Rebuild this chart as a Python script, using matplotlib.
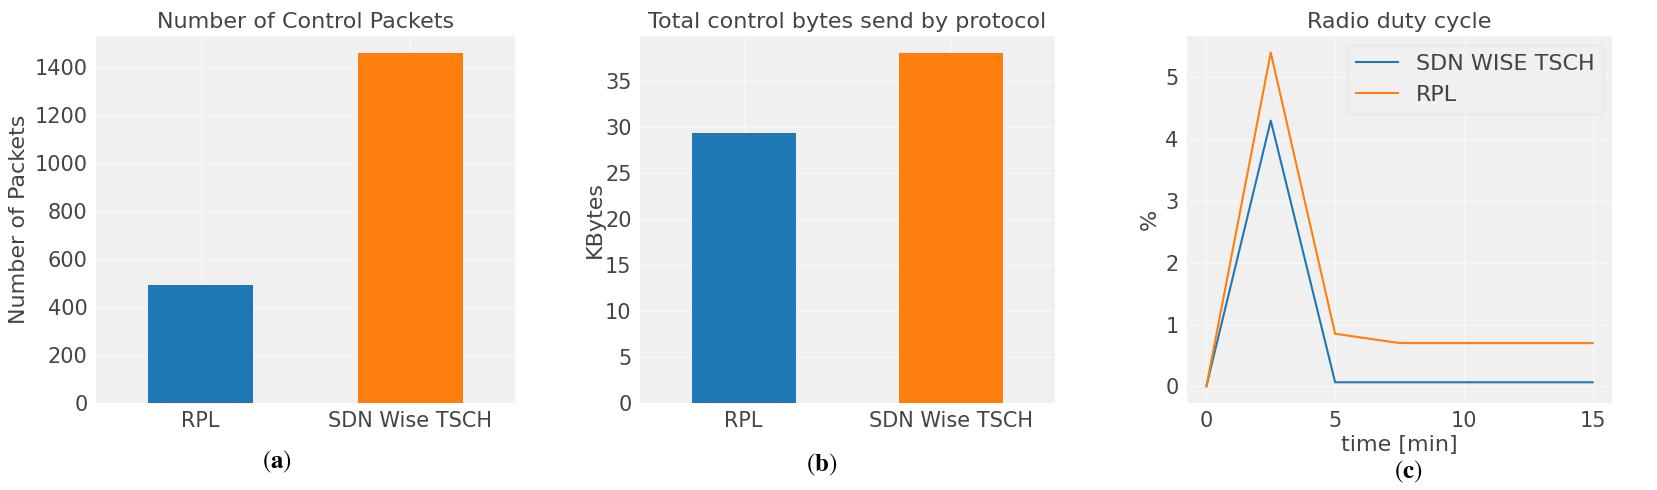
import matplotlib
matplotlib.use("Agg")
import matplotlib.pyplot as plt
import numpy as np

# data
protocols = ["RPL", "SDN Wise TSCH"]
control_packets = [492, 1455]
control_kbytes = [29.3, 38.0]

time_min = [0, 2.5, 5, 7.5, 10, 12.5, 15]
duty_sdn = [0.0, 4.30, 0.065, 0.065, 0.065, 0.065, 0.065]
duty_rpl = [0.0, 5.40, 0.85, 0.70, 0.70, 0.70, 0.70]

bar_colors = ["#1f77b4", "#ff7f0e"]
text_color = "#444444"

plt.rcParams.update({
    "font.family": "DejaVu Sans",
    "font.size": 15,
    "mathtext.fontset": "stix",
    "text.color": text_color,
    "axes.labelcolor": text_color,
    "xtick.color": text_color,
    "ytick.color": text_color,
    "axes.facecolor": "#f0f0f0",
    "axes.edgecolor": "#f0f0f0",
    "axes.grid": True,
    "grid.color": "#f8f8f8",
    "grid.linewidth": 1.0,
    "xtick.major.size": 0,
    "ytick.major.size": 0,
})

fig = plt.figure(figsize=(16.57, 4.90), dpi=100)
ax1 = fig.add_axes([0.0579, 0.1776, 0.2529, 0.749])
ax2 = fig.add_axes([0.3862, 0.1776, 0.2505, 0.749])
ax3 = fig.add_axes([0.7164, 0.1776, 0.2564, 0.749])

for ax in (ax1, ax2, ax3):
    ax.set_axisbelow(True)
    for s in ax.spines.values():
        s.set_visible(False)
    ax.tick_params(labelsize=15, pad=6)

x = np.arange(len(protocols))

# (a) number of control packets
ax1.bar(x, control_packets, width=0.5, color=bar_colors)
ax1.set_xticks(x)
ax1.set_xticklabels(protocols)
ax1.set_xlim(-0.5, 1.5)
ax1.set_ylim(0, max(control_packets) * 1.05)
ax1.set_yticks(np.arange(0, 1401, 200))
ax1.set_title("Number of Control Packets", fontsize=16, color=text_color)
ax1.set_ylabel("Number of Packets", fontsize=16)

# (b) control bytes
ax2.bar(x, control_kbytes, width=0.5, color=bar_colors)
ax2.set_xticks(x)
ax2.set_xticklabels(protocols)
ax2.set_xlim(-0.5, 1.5)
ax2.set_ylim(0, max(control_kbytes) * 1.05)
ax2.set_yticks(np.arange(0, 36, 5))
ax2.set_title("Total control bytes send by protocol", fontsize=16, color=text_color)
ax2.set_ylabel("KBytes", fontsize=16, labelpad=0)

# (c) radio duty cycle
ax3.plot(time_min, duty_sdn, color="#1f77b4", lw=1.5, label="SDN WISE TSCH")
ax3.plot(time_min, duty_rpl, color="#ff7f0e", lw=1.5, label="RPL")
ax3.set_xticks([0, 5, 10, 15])
ax3.set_yticks([0, 1, 2, 3, 4, 5])
ax3.set_title("Radio duty cycle", fontsize=16, color=text_color)
ax3.set_ylabel("%", fontsize=16)
ax3.set_xlabel("time [min]", fontsize=16, labelpad=3)
ax3.legend(loc="upper right", fontsize=16, facecolor="#f0f0f0", edgecolor="#e4e4e4",
           handlelength=1.9, labelspacing=0.5, borderaxespad=0.4)

# panel captions
for xpos, ypos, letter in [(0.167, 0.057, "a"), (0.496, 0.051, "b"), (0.850, 0.037, "c")]:
    fig.text(xpos, ypos, r"$(\mathbf{%s})$" % letter, fontsize=18, color="black",
             ha="center", va="center")

plt.savefig("out.png", dpi=100, facecolor="white")
plt.close()
